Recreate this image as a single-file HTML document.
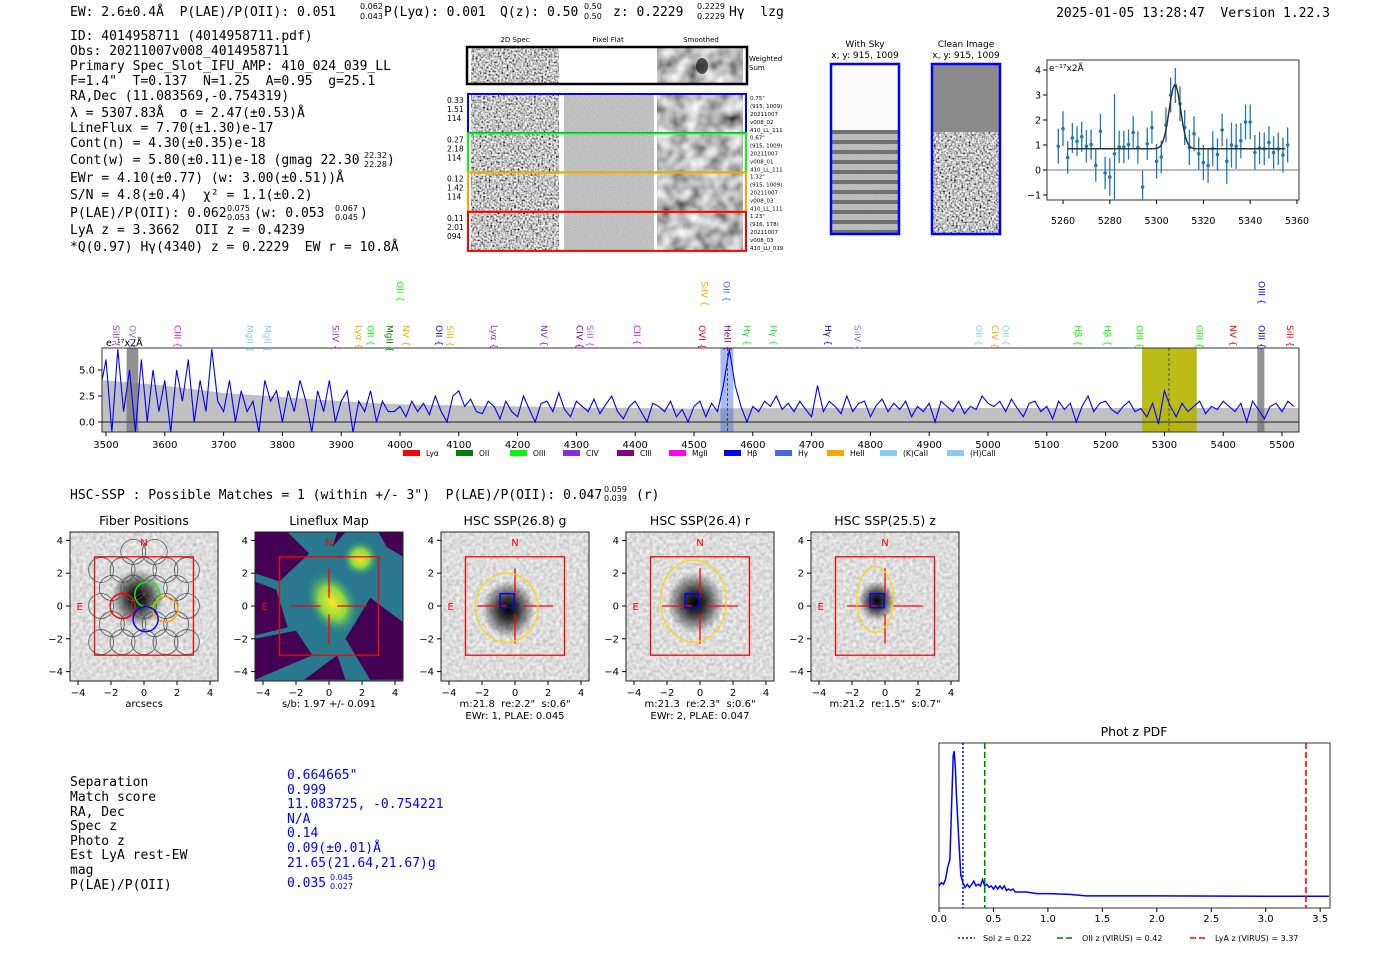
<!DOCTYPE html>
<html><head><meta charset="utf-8"><style>
html,body{margin:0;padding:0;background:#fff}
svg{display:block}
text{white-space:pre}
.m{font-family:"DejaVu Sans Mono","Liberation Mono",monospace;font-size:13px;fill:#000}
.s{font-family:"DejaVu Sans","Liberation Sans",sans-serif;fill:#000}
.sm{font-size:8px}
</style></head><body>
<svg id="root" xmlns="http://www.w3.org/2000/svg" xml:space="preserve" width="1400" height="953" viewBox="0 0 1400 953">
<defs>
<filter id="noiseHi" x="0" y="0" width="100%" height="100%"><feTurbulence type="fractalNoise" baseFrequency="0.55" numOctaves="1" seed="3"/><feColorMatrix type="matrix" values="2.2 0 0 0 -0.55  2.2 0 0 0 -0.55  2.2 0 0 0 -0.55  0 0 0 0 1"/></filter>
<filter id="noiseLo" x="0" y="0" width="100%" height="100%"><feTurbulence type="fractalNoise" baseFrequency="0.07" numOctaves="2" seed="5"/><feColorMatrix type="matrix" values="1.3 0 0 0 -0.15  1.3 0 0 0 -0.15  1.3 0 0 0 -0.15  0 0 0 0 1"/></filter>
<filter id="noiseImg" x="0" y="0" width="100%" height="100%"><feTurbulence type="fractalNoise" baseFrequency="0.3" numOctaves="1" seed="9"/><feColorMatrix type="matrix" values="0.6 0 0 0 0.42  0.6 0 0 0 0.42  0.6 0 0 0 0.42  0 0 0 0 1"/></filter>
<filter id="noiseFlat" x="0" y="0" width="100%" height="100%"><feTurbulence type="fractalNoise" baseFrequency="0.9" numOctaves="1" seed="2"/><feColorMatrix type="matrix" values="0.25 0 0 0 0.4  0.25 0 0 0 0.4  0.25 0 0 0 0.4  0 0 0 0 1"/></filter>
<radialGradient id="gal"><stop offset="0" stop-color="#000" stop-opacity="1"/><stop offset="0.35" stop-color="#111" stop-opacity="0.85"/><stop offset="1" stop-color="#000" stop-opacity="0"/></radialGradient>
<radialGradient id="yel"><stop offset="0" stop-color="#fde725"/><stop offset="0.5" stop-color="#8fd744"/><stop offset="1" stop-color="#21918c" stop-opacity="0"/></radialGradient>
<pattern id="stripes" width="10" height="10" patternUnits="userSpaceOnUse"><rect width="10" height="10" fill="#bbb"/><rect y="0" width="10" height="4" fill="#444"/></pattern>
<clipPath id="specClip"><rect x="102" y="348" width="1197" height="84"/></clipPath>
<clipPath id="fitClip"><rect x="1047" y="60" width="252" height="140"/></clipPath>
</defs>

<!-- header -->
<text class="m" x="70" y="16">EW: 2.6±0.4Å  P(LAE)/P(OII): 0.051</text>
<text class="s sm" x="360" y="9">0.062</text>
<text class="s sm" x="360" y="19">0.043</text>
<text class="m" x="384" y="16">P(Lyα): 0.001</text>
<text class="m" x="500" y="16">Q(z): 0.50</text>
<text class="s sm" x="584" y="9">0.50</text>
<text class="s sm" x="584" y="19">0.50</text>
<text class="m" x="613" y="16">z: 0.2229</text>
<text class="s sm" x="697" y="9">0.2229</text>
<text class="s sm" x="697" y="19">0.2229</text>
<text class="m" x="729" y="16">Hγ  lzg</text>
<text class="m" x="1330" y="17" text-anchor="end">2025-01-05 13:28:47  Version 1.22.3</text>

<!-- left info block -->
<g>
<text class="m" x="70" y="40">ID: 4014958711 (4014958711.pdf)</text>
<text class="m" x="70" y="55">Obs: 20211007v008_4014958711</text>
<text class="m" x="70" y="70">Primary Spec_Slot_IFU_AMP: 410_024_039_LL</text>
<text class="m" x="70" y="85">F=1.4"  T=0.137  N=1.25  A=0.95  g=25.1</text>
<text class="m" x="70" y="100">RA,Dec (11.083569,-0.754319)</text>
<text class="m" x="70" y="117">λ = 5307.83Å  σ = 2.47(±0.53)Å</text>
<text class="m" x="70" y="132">LineFlux = 7.70(±1.30)e-17</text>
<text class="m" x="70" y="147">Cont(n) = 4.30(±0.35)e-18</text>
<text class="m" x="70" y="164">Cont(w) = 5.80(±0.11)e-18 (gmag 22.30</text>
<text class="s sm" x="364" y="158">22.32</text><text class="s sm" x="364" y="167">22.28</text>
<text class="m" x="387" y="164">)</text>
<text class="m" x="70" y="182">EWr = 4.10(±0.77) (w: 3.00(±0.51))Å</text>
<text class="m" x="70" y="199">S/N = 4.8(±0.4)  χ² = 1.1(±0.2)</text>
<text class="m" x="70" y="217">P(LAE)/P(OII): 0.062</text>
<text class="s sm" x="227" y="211">0.075</text><text class="s sm" x="227" y="220">0.053</text>
<text class="m" x="254" y="217">(w: 0.053</text>
<text class="s sm" x="335" y="211">0.067</text><text class="s sm" x="335" y="220">0.045</text>
<text class="m" x="360" y="217">)</text>
<text class="m" x="70" y="234">LyA z = 3.3662  OII z = 0.4239</text>
<text class="m" x="70" y="251">*Q(0.97) Hγ(4340) z = 0.2229  EW r = 10.8Å</text>
</g>

<!-- 2D spectra -->
<g>
<text class="s" font-size="7" x="515" y="42" text-anchor="middle">2D Spec</text>
<text class="s" font-size="7" x="608" y="42" text-anchor="middle">Pixel Flat</text>
<text class="s" font-size="7" x="701" y="42" text-anchor="middle">Smoothed</text>
<rect x="471" y="48" width="88" height="36" filter="url(#noiseHi)"/>
<rect x="657" y="48" width="86" height="36" filter="url(#noiseLo)"/>
<ellipse cx="702" cy="66" rx="6" ry="8" fill="#111" opacity="0.7"/>
<rect x="467" y="47" width="280" height="37" fill="none" stroke="#000" stroke-width="2.5"/>
<text class="s" font-size="7" x="749" y="61">Weighted</text><text class="s" font-size="7" x="749" y="70">Sum</text>
<g id="rows2d"></g>
</g>

<!-- sky images -->
<g>
<text class="s" font-size="9" x="865" y="47" text-anchor="middle">With Sky</text>
<text class="s" font-size="9" x="865" y="58" text-anchor="middle">x, y: 915, 1009</text>
<rect x="832" y="65" width="66" height="65" fill="#fafafa"/>
<rect x="832" y="130" width="66" height="103" fill="url(#stripes)"/>
<rect x="832" y="130" width="66" height="103" filter="url(#noiseFlat)" opacity="0.35"/>
<rect x="831" y="64" width="68" height="170" fill="none" stroke="#00f" stroke-width="2.5"/>
<text class="s" font-size="9" x="966" y="47" text-anchor="middle">Clean Image</text>
<text class="s" font-size="9" x="966" y="58" text-anchor="middle">x, y: 915, 1009</text>
<rect x="933" y="65" width="66" height="67" fill="#8a8a8a"/>
<rect x="933" y="132" width="66" height="101" filter="url(#noiseHi)"/>
<rect x="932" y="64" width="68" height="170" fill="none" stroke="#00f" stroke-width="2.5"/>
</g>

<g id="fit"></g>
<g id="spec"></g>

<text class="m" x="70" y="499">HSC-SSP : Possible Matches = 1 (within +/- 3")  P(LAE)/P(OII): 0.047</text>
<text class="s sm" x="604" y="492">0.059</text><text class="s sm" x="604" y="501">0.039</text>
<text class="m" x="636" y="499">(r)</text>

<g id="cutouts"></g>

<!-- bottom table -->
<g>
<text class="m" x="70" y="786">Separation</text>
<text class="m" x="70" y="801">Match score</text>
<text class="m" x="70" y="816">RA, Dec</text>
<text class="m" x="70" y="830">Spec z</text>
<text class="m" x="70" y="845">Photo z</text>
<text class="m" x="70" y="859">Est LyA rest-EW</text>
<text class="m" x="70" y="874">mag</text>
<text class="m" x="70" y="889">P(LAE)/P(OII)</text>
<text class="m" style="fill:#00f" x="287" y="779">0.664665"</text>
<text class="m" style="fill:#00f" x="287" y="794">0.999</text>
<text class="m" style="fill:#00f" x="287" y="808">11.083725, -0.754221</text>
<text class="m" style="fill:#00f" x="287" y="823">N/A</text>
<text class="m" style="fill:#00f" x="287" y="837">0.14</text>
<text class="m" style="fill:#00f" x="287" y="852">0.09(±0.01)Å</text>
<text class="m" style="fill:#00f" x="287" y="867">21.65(21.64,21.67)g</text>
<text class="m" style="fill:#00f" x="287" y="887">0.035</text>
<text class="s sm" style="fill:#00f" x="330" y="880">0.045</text>
<text class="s sm" style="fill:#00f" x="330" y="889">0.027</text>
</g>

<g id="pdf"></g>
</svg>

<script>
const NS='http://www.w3.org/2000/svg';
// ===== spectrum data =====
const specStartA = 3490;
const specStepA = 10;
const specFlux = [3,6,-1,7,1,5,-1,6,0,5,1,4,-1,5,2,6,0,4,1,7,2,
 1,4,0,3,1,2,-1,4,2,3,0,3,1,4,2,-1,3,1,4,0,2,3,-1,2,1,3,0,2,1,1,
 1.5,0.5,2,1,1.8,0.7,2.5,1,0,2.5,3,1.5,2.2,1,0.8,2,1.5,0.3,2,1,0.5,2.5,1.2,0,1.8,2,1,2.8,1.2,0.5,2,1.5,1,2.2,0.8,1.7,2.5,1,0.3,1.5,2,1,0,1.8,1.5,1,2,0.5,1.2,0,
 1.5,2,0.5,1.8,1,3.5,7,3.5,1.5,0,
 1.5,1,2,1.5,2.5,1.2,1.8,1,2,1.2,0.5,3.5,1,2,1.5,0.8,2.5,1,1.8,2,0.5,1.6,2.2,1,1.8,1.2,2,0.5,1.5,1,1.8,0,2,1.5,1,2,0.8,1.5,1.2,2.5,
 1.8,1.5,2,1,2.2,1.3,0.5,1.8,2,1,1.5,0.3,2,1.2,1.8,0,1.5,2.5,1,1.8,2,1.2,0.8,1.5,2,1,1.3,0.5,1.8,-0.2,
 3,1.5,0.5,1.8,1,1.5,2,0.8,1.5,1.2,2,1.5,1,1.8,0,2,1.2,0.3,1.5,1.8,1,2,1.5];
const errWave = [3490,3500,3600,3700,3800,3900,4000,4100,4200,4300,4400,4500,4700,5000,5300,5530];
const errLevel = [4.0,4.0,3.5,2.8,2.4,2.0,1.7,1.6,1.5,1.4,1.35,1.3,1.35,1.35,1.35,1.35];
const specXTicks = [3500,3600,3700,3800,3900,4000,4100,4200,4300,4400,4500,4600,4700,4800,4900,5000,5100,5200,5300,5400,5500];
const specYTicks = [0.0,2.5,5.0];
const lineNames = ['SiII','OVI','CIII','MgII','MgII','SiIV','Lyα','OII','MgII','NV','OII','SiII','Lyα','NV','CIV','SiII','CII','OVI','HeII','Hγ','Hγ','Hγ','SiIV','OII','CIV','OII','Hβ','Hβ','OIII','OIII','NV','OIII','SiII','OII','SiIV','OII','OIII'];
const lineWaves = [3517,3545,3622,3745,3775,3890,3930,3950,3982,4010,4066,4085,4160,4245,4305,4323,4403,4514,4557,4590,4635,4728,4778,4985,5012,5030,5153,5203,5258,5360,5417,5465,5514,4000,4518,4555,5465];
const lineColors = ['#9932cc','#9370db','#ff00ff','#87ceeb','#87ceeb','#9932cc','#ffa500','#00ff00','#008000','#ffa500','#0000ff','#ffa500','#9932cc','#8a2be2','#800080','#ba55d3','#ff00ff','#ff0000','#800080','#00ff00','#00ff00','#0000ff','#9370db','#87ceeb','#ffa500','#87ceeb','#00ff00','#00ff00','#00ff00','#00ff00','#ff0000','#0000ff','#ff0000','#00ff00','#ffa500','#4169e1','#0000ff'];
const lineRow = [0,0,0,0,0,0,0,0,0,0,0,0,0,0,0,0,0,0,0,0,0,0,0,0,0,0,0,0,0,0,0,0,0,1,1,1,1];
const legendNames = ['Lyα','OII','OIII','CIV','CIII','MgII','Hβ','Hγ','HeII','(K)CaII','(H)CaII'];
const legendColors = ['#ff0000','#008000','#00ff00','#8a2be2','#800080','#ff00ff','#0000ff','#4169e1','#ffa500','#87ceeb','#87ceeb'];

// ===== fit data =====
const fitWave = [5258,5260,5262,5264,5266,5268,5270,5272,5274,5276,5278,5280,5282,5284,5286,5288,5290,5292,5294,5296,5298,5300,5302,5304,5306,5308,5310,5312,5314,5316,5318,5320,5322,5324,5326,5328,5330,5332,5334,5336,5338,5340,5342,5344,5346,5348,5350,5352,5354,5356];
const fitFlux = [0.95,1.65,0.5,1.28,1.15,1.33,0.95,1.02,0.18,1.55,-0.12,-0.28,0.65,0.92,0.92,1.02,1.5,0.9,-0.68,1.05,1.7,0.35,0.52,1.8,3.0,3.38,2.65,1.7,0.9,1.45,0.65,0.3,0.18,0.85,0.62,1.6,0.35,1.0,0.95,1.17,1.92,1.92,0.7,0.88,0.85,1.1,0.7,0.85,0.6,1.0];
const fitErr = [0.7,0.7,0.65,0.6,0.6,0.6,0.65,0.6,0.65,0.7,0.65,0.75,2.4,0.65,0.65,0.6,0.65,0.65,0.65,0.65,0.65,0.7,0.65,0.7,0.7,0.7,0.7,0.7,0.7,0.7,0.65,0.7,0.7,0.7,0.65,0.65,0.9,0.9,0.9,0.7,0.7,0.7,0.7,0.65,0.65,0.65,0.65,0.65,0.7,0.7];
const fitParams = [0.85, 2.55, 5307.83, 2.47];
const fitXTicks = [5260,5280,5300,5320,5340,5360];
const fitYTicks = [-1,0,1,2,3,4];

// ===== phot-z pdf =====
const pdfZ = [0,0.02,0.04,0.06,0.08,0.10,0.12,0.13,0.14,0.15,0.16,0.18,0.20,0.22,0.24,0.26,0.28,0.30,0.32,0.34,0.36,0.38,0.40,0.42,0.44,0.46,0.48,0.50,0.52,0.54,0.56,0.58,0.60,0.62,0.64,0.66,0.68,0.70,0.8,0.9,1.0,1.2,1.35,1.5,2.0,3.0,3.6];
const pdfP = [0.13,0.15,0.14,0.17,0.25,0.30,0.75,0.97,1.0,0.9,0.72,0.45,0.2,0.15,0.12,0.14,0.12,0.14,0.16,0.13,0.14,0.13,0.17,0.13,0.14,0.12,0.13,0.11,0.13,0.11,0.13,0.11,0.13,0.10,0.11,0.10,0.11,0.09,0.09,0.08,0.08,0.075,0.065,0.065,0.065,0.063,0.063];
const pdfXTicks = [0.0,0.5,1.0,1.5,2.0,2.5,3.0,3.5];
const pdfMarkZ = [0.22,0.42,3.37];
const pdfMarkLabels = ['Sol z = 0.22','OII z (VIRUS) = 0.42','LyA z (VIRUS) = 3.37'];

// ===== cutouts =====
const cutTitles = ['Fiber Positions','Lineflux Map','HSC SSP(26.8) g','HSC SSP(26.4) r','HSC SSP(25.5) z'];
const cutCaptions = [['arcsecs'],['s/b: 1.97 +/- 0.091'],['m:21.8  re:2.2"  s:0.6"','EWr: 1, PLAE: 0.045'],['m:21.3  re:2.3"  s:0.6"','EWr: 2, PLAE: 0.047'],['m:21.2  re:1.5"  s:0.7"']];
const cutTicks = [-4,-2,0,2,4];
const ellCx = [-0.5,-0.4,-0.6];
const ellCy = [-0.1,0.3,0.4];
const ellRx = [1.9,2.0,1.1];
const ellRy = [2.1,2.5,2.0];
const galSize = [1.6,1.7,1.1];
const fiberX = [-2.6,-1.3,0,1.3,2.6,-1.95,-0.65,0.65,1.95,-2.6,-1.3,0,1.3,2.6,-1.95,-0.65,0.65,1.95,-1.3,0,1.3,-0.65,0.65,-2.6,2.6];
const fiberY = [0,0,0,0,0,1.1,1.1,1.1,1.1,2.2,2.2,2.2,2.2,2.2,-1.1,-1.1,-1.1,-1.1,-2.2,-2.2,-2.2,3.3,3.3,-2.2,-2.2];
const hiFiberX = [-1.3,0.2,1.3,0.1];
const hiFiberY = [0,0.7,-0.2,-0.8];
const hiFiberC = ['#ff0000','#00ff00','#ffa500','#0000ff'];

const rowLabels = [['0.33','1.51','114'],['0.27','2.18','114'],['0.12','1.42','114'],['0.11','2.01','094']];
const rowInfo = [['0.75"','(915, 1009)','20211007','v008_02','410_LL_111'],['0.67"','(915, 1009)','20211007','v008_01','410_LL_111'],['1.32"','(915, 1009)','20211007','v008_03','410_LL_111'],['1.23"','(916, 178)','20211007','v008_03','410_LU_019']];
const rowColors = ['#0000ff','#00ff00','#ffa500','#ff0000'];

function mk(tag, attrs, parent){const e=document.createElementNS(NS,tag);for(const k in attrs)e.setAttribute(k,attrs[k]);parent.appendChild(e);return e;}
function txt(parent,x,y,s,size,anchor,fill){const t=mk('text',{x:x,y:y,'font-size':size,'text-anchor':anchor||'start',class:'s'},parent);if(fill)t.style.fill=fill;t.textContent=s;return t;}

// ---- 2D rows
const rows=document.getElementById('rows2d');
rowColors.forEach((c,i)=>{
  const y0=95+i*39.3;
  const r1=mk('rect',{x:471,y:y0,width:88,height:37,filter:'url(#noiseHi)'},rows);
  
  
  const r2=mk('rect',{x:564,y:y0,width:90,height:37,filter:'url(#noiseFlat)'},rows);
  
  
  const r3=mk('rect',{x:657,y:y0,width:86,height:37,filter:'url(#noiseLo)'},rows);
  
  
  const f=mk('rect',{x:468,y:y0-1,width:278,height:39,fill:'none',stroke:c,'stroke-width':2},rows);
  
  
  rowLabels[i].forEach((s,k)=>{const t=txt(rows,447,y0+8+k*9,s,7.5);});
  rowInfo[i].forEach((s,k)=>{const t=txt(rows,750,y0+5+k*8,s,5.5);});
});

// ---- spectrum
const spec=document.getElementById('spec');
const sx=w=>106+(w-3500)*0.588;
const sy=v=>422-v*10.4;
const frame=mk('rect',{x:102,y:348,width:1197,height:84,fill:'#fff',stroke:'none'},spec);


const cl=mk('g',{'clip-path':'url(#specClip)'},spec);
let ep='M'+sx(errWave[0])+',432 ';
errWave.forEach((w,i)=>{ep+='L'+sx(w)+','+sy(errLevel[i])+' ';});
ep+='L'+sx(errWave[errWave.length-1])+',432 Z';
const errA=mk('path',{d:ep,fill:'#c0c0c0'},cl);


const b1=mk('rect',{x:sx(3535),y:348,width:sx(3555)-sx(3535),height:84,fill:'#777',opacity:0.8},cl);


const b2=mk('rect',{x:sx(4545),y:348,width:sx(4567)-sx(4545),height:84,fill:'#4169e1',opacity:0.45},cl);


const b3=mk('rect',{x:sx(5262),y:348,width:sx(5355)-sx(5262),height:84,fill:'#b5b500',opacity:0.9},cl);


const b4=mk('rect',{x:sx(5458),y:348,width:sx(5470)-sx(5458),height:84,fill:'#777',opacity:0.8},cl);


const zl=mk('line',{x1:102,x2:1299,y1:sy(0),y2:sy(0),stroke:'#555','stroke-width':1.5},cl);


let sp='';
specFlux.forEach((v,i)=>{sp+=(i?'L':'M')+sx(specStartA+i*specStepA).toFixed(1)+','+sy(v).toFixed(1)+' ';});
const sl=mk('path',{d:sp,fill:'none',stroke:'#0000ff','stroke-width':1.1},cl);


[4557,5307.83].forEach(w=>{const d=mk('line',{x1:sx(w),x2:sx(w),y1:348,y2:432,stroke:'#333','stroke-dasharray':'3,2','stroke-width':0.8},cl);});
const bd=mk('rect',{x:102,y:348,width:1197,height:84,fill:'none',stroke:'#333','stroke-width':1},spec);


specXTicks.forEach(w=>{
  const tk=mk('line',{x1:sx(w),x2:sx(w),y1:432,y2:436,stroke:'#000'},spec);
  
  
  const t=txt(spec,sx(w),448,String(w),10,'middle');
  
  
});
specYTicks.forEach(v=>{
  const tk=mk('line',{x1:98,x2:102,y1:sy(v),y2:sy(v),stroke:'#000'},spec);
  
  
  const t=txt(spec,95,sy(v)+3.5,v.toFixed(1),10,'end');
  
  
});
const ul=txt(spec,106,346,'e⁻¹⁷x2Å',9.5);


lineNames.forEach((n,i)=>{
  const x=sx(lineWaves[i]);
  const ytop=lineRow[i]?281:325;
  const t=mk('text',{x:0,y:0,'font-size':9,class:'s',transform:'translate('+(x-3)+','+ytop+') rotate(90)'},spec);
  t.style.fill=lineColors[i];
  t.textContent=n+' {';
  
  
});
const legX=[403,456,510,563,617,669,724,775,827,880,947];
legendNames.forEach((n,i)=>{
  const r=mk('rect',{x:legX[i],y:450,width:17,height:6,fill:legendColors[i]},spec);
  
  
  const t=txt(spec,legX[i]+23,456,n,7.5);
  
  
});

// ---- fit chart
const fit=document.getElementById('fit');
const fx=w=>1063+(w-5260)*2.34;
const fy=v=>170-v*25;
const fb=mk('rect',{x:1047,y:60,width:252,height:140,fill:'#fff',stroke:'#333'},fit);


const fg=mk('g',{'clip-path':'url(#fitClip)'},fit);
const fz=mk('line',{x1:1047,x2:1299,y1:fy(0),y2:fy(0),stroke:'#777'},fg);


fitWave.forEach((w,i)=>{
  const e=mk('line',{x1:fx(w),x2:fx(w),y1:fy(fitFlux[i]-fitErr[i]),y2:fy(fitFlux[i]+fitErr[i]),stroke:'#1f77b4','stroke-width':1.3},fg);
  
  
  const p=mk('circle',{cx:fx(w),cy:fy(fitFlux[i]),r:1.8,fill:'#1f77b4'},fg);
  
  
});
let fp='';
for(let w=5262;w<=5355;w+=0.5){const v=fitParams[0]+fitParams[1]*Math.exp(-0.5*Math.pow((w-fitParams[2])/fitParams[3],2));fp+=(fp?'L':'M')+fx(w).toFixed(1)+','+fy(v).toFixed(1)+' ';}
const fl=mk('path',{d:fp,fill:'none',stroke:'#333','stroke-width':1.5},fg);


fitXTicks.forEach(w=>{
  const tk=mk('line',{x1:fx(w),x2:fx(w),y1:200,y2:204,stroke:'#000'},fit);
  
  
  const t=txt(fit,fx(w),224,String(w),9.5,'middle');
  
  
});
fitYTicks.forEach(v=>{
  const tk=mk('line',{x1:1043,x2:1047,y1:fy(v),y2:fy(v),stroke:'#000'},fit);
  
  
  const t=txt(fit,1041,fy(v)+3.5,v<0?'−'+(-v):String(v),9.5,'end');
  
  
});
const fu=txt(fit,1049,71,'e⁻¹⁷x2Å',9);



// ---- pdf chart
const pdf=document.getElementById('pdf');
const px=z=>939+z*108.9;
const py=p=>906-p*155;
const ptl=txt(pdf,1134,736,'Phot z PDF',12.5,'middle');


const pb=mk('rect',{x:939,y:743,width:391,height:165,fill:'#fff',stroke:'#333'},pdf);


let pp='';
pdfZ.forEach((z,i)=>{pp+=(i?'L':'M')+px(Math.min(z,3.58)).toFixed(1)+','+py(pdfP[i]).toFixed(1)+' ';});
const pl=mk('path',{d:pp,fill:'none',stroke:'#0000ff','stroke-width':1.5},pdf);


const markStyles=[['#0000ff','2,2'],['#008000','6,3'],['#ff0000','6,3']];
pdfMarkZ.forEach((z,i)=>{
  const l=mk('line',{x1:px(z),x2:px(z),y1:743,y2:908,stroke:markStyles[i][0],'stroke-width':1.6,'stroke-dasharray':markStyles[i][1]},pdf);
  
  
});
pdfXTicks.forEach(z=>{
  const tk=mk('line',{x1:px(z),x2:px(z),y1:908,y2:912,stroke:'#000'},pdf);
  
  
  const t=txt(pdf,px(z),922,z.toFixed(1),10,'middle');
  
  
});
const lgX=[958,1057,1190];
pdfMarkLabels.forEach((s,i)=>{
  const l=mk('line',{x1:lgX[i],x2:lgX[i]+17,y1:938,y2:938,stroke:markStyles[i][0],'stroke-width':1.6,'stroke-dasharray':markStyles[i][1]},pdf);
  
  
  const t=txt(pdf,lgX[i]+25,941,s,8);
  
  
});

// ---- cutouts
const cuts=document.getElementById('cutouts');
const cutLeft=[70,255,441,626,811];
cutLeft.forEach((ox,k)=>{
  const g=mk('g',{},cuts);
  
  
  const cx=u=>ox+74+u*16.5;
  const cy=u=>606-u*16.4;
  const tt=txt(g,ox+74,525,cutTitles[k],12.5,'middle');
  
  
  if(k===1){
    const bg=mk('rect',{x:ox,y:532,width:148,height:149,fill:'#2a788e'},g);
    
    
    const polys=[[[-4.5,4.5],[-2.5,4.5],[-1.2,3.2],[-3,1.5],[-4.5,2]],[[0.5,4.5],[1,4.5],[0.2,3.6]],[[2.5,0.5],[4.5,-1],[4.5,-4.5],[2.5,-4.5],[1,-2]],[[-4.5,-2],[-2,-1.5],[-1,-3],[-4.5,-4.5]],[[-4.5,1.5],[-3.2,1],[-2.5,-1.3],[-4.5,-1.8]],[[3,4.5],[4.5,4.5],[4.5,3],[3.5,3.6]],[[-1.5,-4.5],[0.5,-3],[1,-4.5]]];
    polys.forEach(p=>{const pg=mk('polygon',{points:p.map(q=>cx(q[0])+','+cy(q[1])).join(' '),fill:'#440154'},g);});
    const y1=mk('ellipse',{cx:cx(0.2),cy:cy(0.2),rx:24,ry:34,fill:'url(#yel)',transform:'rotate(-30 '+cx(0.2)+' '+cy(0.2)+')'},g);
    
    
    const y2=mk('ellipse',{cx:cx(1.9),cy:cy(2.9),rx:18,ry:18,fill:'url(#yel)'},g);
    
    
  } else {
    const im=mk('rect',{x:ox,y:532,width:148,height:149,filter:'url(#noiseImg)'},g);
    
    
    const gi=k===0?0:k-2;
    const gs=k===0?1.6:galSize[gi];
    const gx=k===0?-0.4:ellCx[gi]+0.1, gyy=k===0?0.5:ellCy[gi]-0.1;
    const gal=mk('ellipse',{cx:cx(gx),cy:cy(gyy),rx:gs*16.5,ry:gs*18,fill:'url(#gal)'},g);
    
    
  }
  const fr=mk('rect',{x:ox,y:532,width:148,height:149,fill:'none',stroke:'#222'},g);
  
  
  const sq=mk('rect',{x:cx(-3),y:cy(3),width:cx(3)-cx(-3),height:cy(-3)-cy(3),fill:'none',stroke:'#ff0000','stroke-width':1.3},g);
  
  
  const n=txt(g,cx(0),cy(3.9)+4,'N',10,'middle','#ff0000');
  
  
  const e=txt(g,cx(-3.9),cy(0)+4,'E',10,'middle','#ff0000');
  
  
  if(k===0){
    fiberX.forEach((fxv,i)=>{const c=mk('circle',{cx:cx(fxv),cy:cy(fiberY[i]),r:12.5,fill:'none',stroke:'#555','stroke-width':0.8},g);});
    hiFiberX.forEach((fxv,i)=>{const c=mk('circle',{cx:cx(fxv),cy:cy(hiFiberY[i]),r:12.5,fill:'none',stroke:hiFiberC[i],'stroke-width':1.4},g);});
  } else {
    [[-2.3,0,-0.5,0],[0.5,0,2.3,0],[0,2.3,0,0.5],[0,-0.5,0,-2.3]].forEach(s=>{const l=mk('line',{x1:cx(s[0]),y1:cy(s[1]),x2:cx(s[2]),y2:cy(s[3]),stroke:'#ff0000','stroke-width':1.3},g);});
  }
  if(k>=2){
    const gi=k-2;
    const el=mk('ellipse',{cx:cx(ellCx[gi]),cy:cy(ellCy[gi]),rx:ellRx[gi]*16.5,ry:ellRy[gi]*16.4,fill:'none',stroke:'#ffd700','stroke-width':1.2},g);
    
    
    const bq=mk('rect',{x:cx(-0.9),y:cy(0.75),width:0.85*16.5,height:0.85*16.4,fill:'none',stroke:'#0000ff','stroke-width':1.4},g);
    
    
  }
  cutTicks.forEach(v=>{
    const tx=mk('line',{x1:cx(v),x2:cx(v),y1:681,y2:685,stroke:'#000'},g);
    
    
    const lx=txt(g,cx(v),696,v<0?'−'+(-v):String(v),10,'middle');
    
    
    const ty=mk('line',{x1:ox-4,x2:ox,y1:cy(v),y2:cy(v),stroke:'#000'},g);
    
    
    const ly=txt(g,ox-7,cy(v)+3.5,v<0?'−'+(-v):String(v),10,'end');
    
    
  });
  cutCaptions[k].forEach((s,i)=>{
    const c=txt(g,ox+74,707+i*12,s,10,'middle');
    
    
  });
});
</script>
</body></html>
